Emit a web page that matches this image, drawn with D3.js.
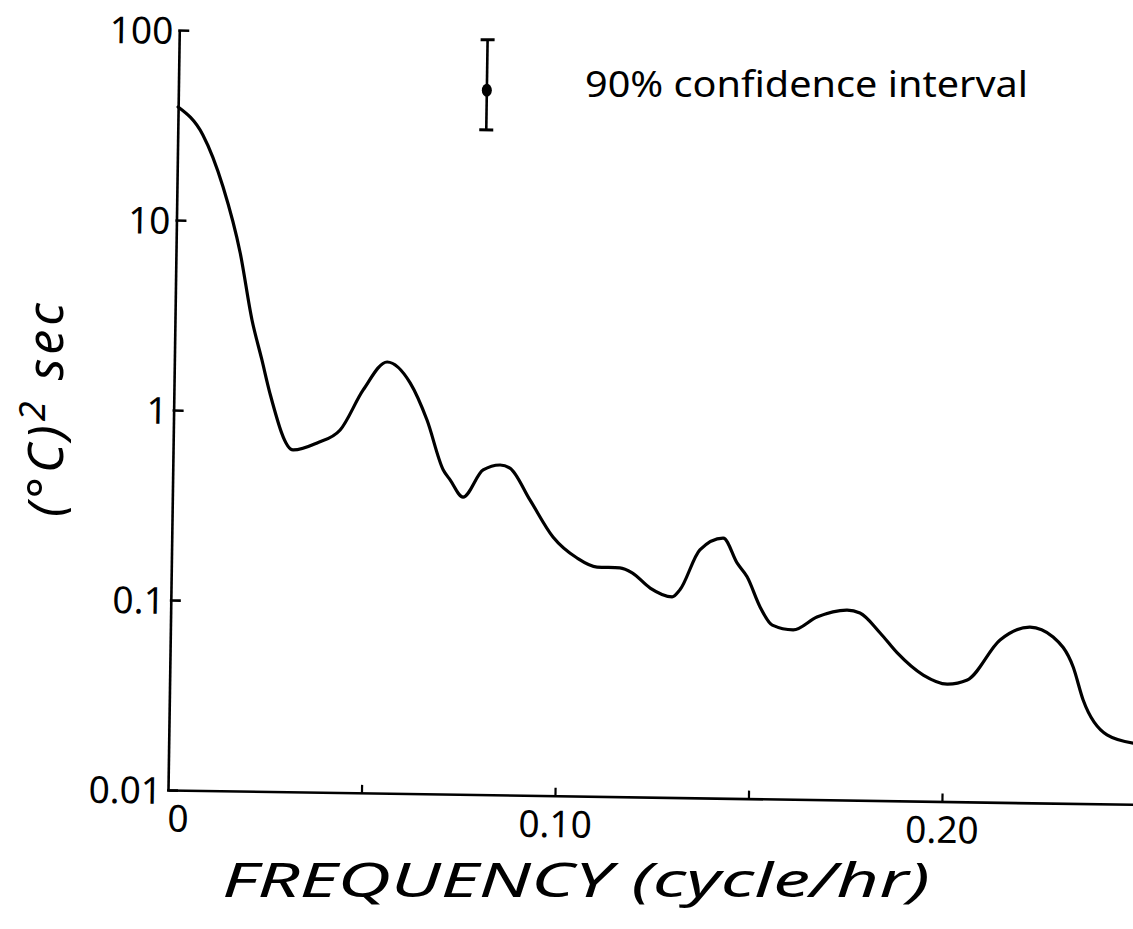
<!DOCTYPE html>
<html>
<head>
<meta charset="utf-8">
<script src="https://cdn.jsdelivr.net/npm/d3@7/dist/d3.min.js"></script>
<style>
  html, body { margin: 0; padding: 0; background: #fff; }
  svg { display: block; }
  text { font-family: "Noto Sans", "DejaVu Sans", sans-serif; fill: #000; }
</style>
</head>
<body>
<svg id="chart" width="1133" height="929"></svg>
<script>
// ---- data ----
const freq = [0, 0.0065, 0.0119, 0.0166, 0.0199, 0.0226, 0.0248, 0.0310, 0.0372, 0.0431,
  0.0489, 0.0550, 0.0610, 0.0655, 0.0699, 0.0717, 0.0751, 0.0802, 0.0846, 0.0871,
  0.0924, 0.0985, 0.1048, 0.1100, 0.1159, 0.1191, 0.1238, 0.1295, 0.1315, 0.1365,
  0.1425, 0.1462, 0.1488, 0.1523, 0.1555, 0.1609, 0.1670, 0.1748, 0.1781, 0.1834,
  0.1879, 0.1947, 0.2009, 0.2061, 0.2144, 0.2221, 0.2281, 0.2334, 0.2361, 0.2424, 0.2492];
const power = [39.4, 28.2, 15.1, 6.79, 3.02, 1.87, 1.25, 0.630, 0.689, 0.809,
  1.32, 1.86, 1.45, 0.927, 0.508, 0.451, 0.367, 0.512, 0.545, 0.526,
  0.359, 0.230, 0.179, 0.161, 0.160, 0.151, 0.126, 0.1136, 0.124, 0.202,
  0.234, 0.173, 0.147, 0.102, 0.0822, 0.0778, 0.0914, 0.100, 0.0967, 0.0762,
  0.060, 0.0461, 0.0415, 0.0438, 0.0715, 0.0841, 0.0749, 0.0522, 0.0351, 0.0231, 0.0210];

const yTickValues = [100, 10, 1, 0.1, 0.01];
const yTickLabels = ["100", "10", "1", "0.1", "0.01"];
const xTickValues = [0, 0.05, 0.10, 0.15, 0.20];
const xTickLabels = ["0", "", "0.10", "", "0.20"];

// confidence-interval marker (legend)
const ciFreq = [0.0797];
const ciCenter = [51];
const ciLow = [31.5];
const ciHigh = [94];
const ciLabel = "90% confidence interval";

const xTitle = "FREQUENCY (cycle/hr)";

// ---- drawing ----
const svg = d3.select("#chart");
const x = d3.scaleLinear().domain([0, 0.25]).range([168, 1135.5]);
const y = d3.scaleLog().domain([0.01, 100]).range([790, 30]);

const g = svg.append("g").attr("transform", "rotate(0.85,168,790)");

// y axis
const yAxis = d3.axisLeft(y)
  .tickValues(yTickValues)
  .tickFormat((d, i) => yTickLabels[i])
  .tickSize(-10)
  .tickSizeOuter(0)
  .tickPadding(6);
const ya = g.append("g").attr("transform", `translate(${x(0)},0)`).call(yAxis);
ya.select(".domain").attr("stroke", "#000").attr("stroke-width", 2.6);
ya.selectAll(".tick line").attr("stroke", "#000").attr("stroke-width", 2.6).attr("x1", -1);
ya.selectAll(".tick text").style("font-size", "37px").attr("fill", "#000").attr("dy", "0.36em");

// x axis
const xAxis = d3.axisBottom(x)
  .tickValues(xTickValues)
  .tickFormat((d, i) => xTickLabels[i])
  .tickSize(-8)
  .tickSizeOuter(0)
  .tickPadding(10);
const xa = g.append("g").attr("transform", `translate(0,${y(0.01)})`).call(xAxis);
xa.select(".domain").attr("stroke", "#000").attr("stroke-width", 2.6);
xa.selectAll(".tick line").attr("stroke", "#000").attr("stroke-width", 2.2);
xa.selectAll(".tick").filter(d => d === 0).select("line").remove();
xa.selectAll(".tick text").style("font-size", "37px").attr("fill", "#000").attr("dy", "0.85em");
xa.selectAll(".tick").filter(d => d === 0).select("text").attr("dx", 10);

// spectrum curve
const line = d3.line()
  .x((d, i) => x(freq[i]))
  .y(d => y(d))
  .curve(d3.curveMonotoneX);
g.append("path")
  .datum(power)
  .attr("d", line)
  .attr("fill", "none")
  .attr("stroke", "#000")
  .attr("stroke-width", 3.2)
  .attr("stroke-linejoin", "round")
  .attr("stroke-linecap", "round");

// confidence interval marker
const ci = g.append("g");
ciFreq.forEach((f, i) => {
  ci.append("line").attr("x1", x(f)).attr("x2", x(f))
    .attr("y1", y(ciLow[i])).attr("y2", y(ciHigh[i]))
    .attr("stroke", "#000").attr("stroke-width", 2.6);
  [ciLow[i], ciHigh[i]].forEach(v => {
    ci.append("line").attr("x1", x(f) - 7).attr("x2", x(f) + 7)
      .attr("y1", y(v)).attr("y2", y(v))
      .attr("stroke", "#000").attr("stroke-width", 3);
  });
  ci.append("ellipse").attr("cx", x(f)).attr("cy", y(ciCenter[i]))
    .attr("rx", 5).attr("ry", 6.5).attr("fill", "#000");
});

// legend text
svg.append("text")
  .attr("x", 585).attr("y", 97)
  .attr("textLength", 443).attr("lengthAdjust", "spacingAndGlyphs")
  .style("font-size", "37px")
  .text(ciLabel);

// x title
svg.append("text")
  .attr("x", 222).attr("y", 897)
  .attr("textLength", 708).attr("lengthAdjust", "spacingAndGlyphs")
  .style("font-size", "47px").style("font-style", "italic")
  .text(xTitle);

// y title
const yt = svg.append("text")
  .attr("transform", "translate(63,408) rotate(-90)")
  .attr("text-anchor", "middle")
  .style("font-size", "50px").style("font-style", "italic")
  .style("letter-spacing", "4px");
yt.append("tspan").text("(°C)");
yt.append("tspan").attr("dy", -18).style("font-size", "36px").text("2");
yt.append("tspan").attr("dy", 18).text(" sec");
</script>
</body>
</html>
